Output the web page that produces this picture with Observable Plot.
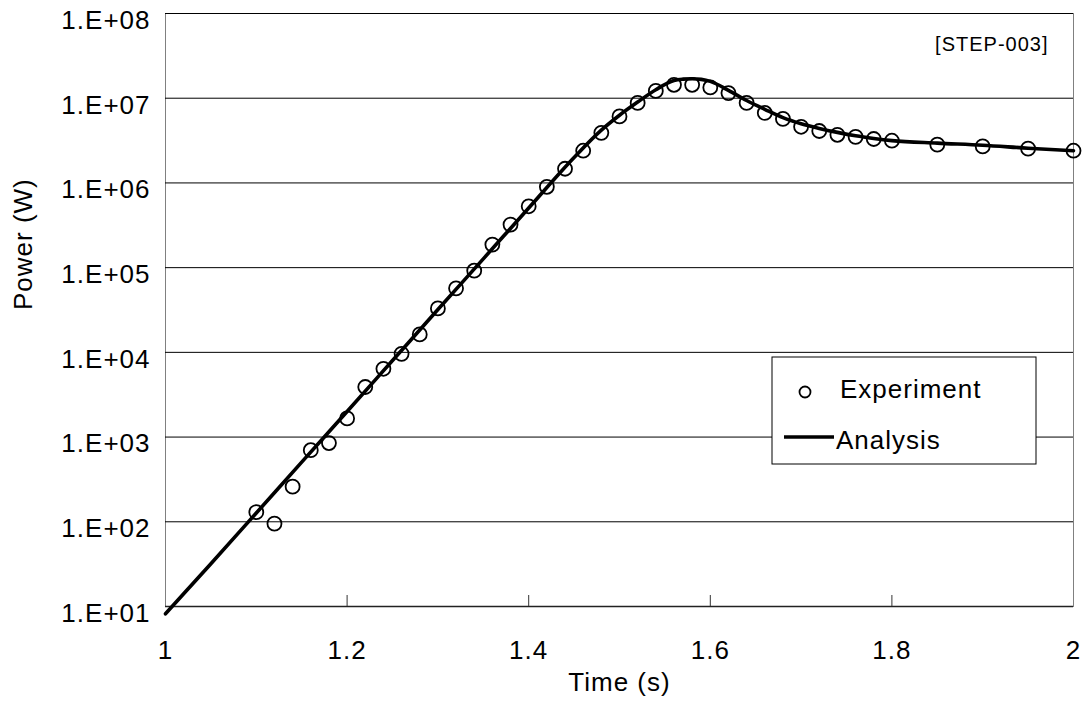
<!DOCTYPE html>
<html><head><meta charset="utf-8">
<script src="https://cdn.jsdelivr.net/npm/d3@7"></script>
<script src="https://cdn.jsdelivr.net/npm/@observablehq/plot@0.6"></script>
<style>body{margin:0;background:#fff;} svg{display:block}</style>
</head><body><div id="chart"></div>
<script>
const expTime = [1.10,1.12,1.14,1.16,1.18,1.20,1.22,1.24,1.26,1.28,1.30,1.32,1.34,1.36,1.38,1.40,1.42,1.44,1.46,1.48,1.50,1.52,1.54,1.56,1.58,1.60,1.62,1.64,1.66,1.68,1.70,1.72,1.74,1.76,1.78,1.80,1.85,1.90,1.95,2.00];
const expPower = [130,95,260,700,850,1660,3900,6400,9600,16300,33000,57000,92000,187000,322000,530000,900000,1.47e6,2.40e6,3.9e6,6.1e6,8.8e6,1.22e7,1.44e7,1.44e7,1.34e7,1.15e7,8.8e6,6.7e6,5.7e6,4.6e6,4.1e6,3.7e6,3.5e6,3.3e6,3.15e6,2.83e6,2.70e6,2.54e6,2.40e6];
const anaTime = [1.00,1.05,1.10,1.15,1.20,1.25,1.30,1.35,1.40,1.45,1.48,1.50,1.52,1.54,1.56,1.57,1.58,1.59,1.60,1.62,1.64,1.66,1.68,1.70,1.72,1.74,1.76,1.78,1.80,1.85,1.90,1.95,2.00];
const anaPower = [8.2,32,127,506,2000,8000,32000,127000,506000,2.0e6,4.2e6,6.3e6,9.0e6,1.26e7,1.62e7,1.68e7,1.70e7,1.67e7,1.58e7,1.24e7,9.4e6,7.4e6,5.9e6,5.0e6,4.4e6,3.95e6,3.6e6,3.35e6,3.16e6,2.95e6,2.79e6,2.57e6,2.40e6];
const xTicks = [1, 1.2, 1.4, 1.6, 1.8, 2];
const xTickLabels = ["1","1.2","1.4","1.6","1.8","2"];
const yTicks = [1e1,1e2,1e3,1e4,1e5,1e6,1e7,1e8];
const yTickLabels = ["1.E+01","1.E+02","1.E+03","1.E+04","1.E+05","1.E+06","1.E+07","1.E+08"];
const xLabel = "Time (s)";
const yLabel = "Power (W)";
const tag = "[STEP-003]";
const seriesNames = ["Experiment","Analysis"];

const exp = expTime.map((t,i)=>({t, p: expPower[i]}));
const ana = anaTime.map((t,i)=>({t, p: anaPower[i]}));

const chart = Plot.plot({
  width:1085, height:713, marginLeft:165, marginRight:12, marginTop:13, marginBottom:107,
  style: {fontFamily:"'Liberation Sans', Arial, sans-serif", fontSize:"26px", color:"#000", background:"#fff", overflow:"visible", letterSpacing:"1px"},
  x: {domain:[1,2]},
  y: {type:"log", domain:[10,1e8]},
  marks: [
    Plot.frame({stroke:"#808080"}),
    Plot.gridY(yTicks, {stroke:"#000", strokeOpacity:1, strokeWidth:1}),
    Plot.ruleY([10], {stroke:"#222", strokeWidth:1.5}),
    Plot.ruleX(xTicks.slice(1,-1), {stroke:"#333", insetTop:582}),
    Plot.axisY(yTicks, {tickSize:0, tickPadding:15, dy:7, tickFormat:d=>yTickLabels[yTicks.indexOf(d)], label:null, fontSize:26}),
    Plot.axisX(xTicks, {tickSize:0, tickPadding:34, tickFormat:d=>xTickLabels[xTicks.indexOf(d)], label:null, fontSize:26}),
    Plot.text([xLabel], {frameAnchor:"bottom", dy:84, fontSize:26}),
    Plot.text([yLabel], {frameAnchor:"left", rotate:-90, dx:-142, fontSize:26}),
    Plot.text([tag], {frameAnchor:"top-right", dx:-25, dy:23, textAnchor:"end", fontSize:20}),
    Plot.line(ana, {x:"t", y:"p", stroke:"#000", strokeWidth:3.6, curve:"monotone-x"}),
    Plot.dot(exp, {x:"t", y:"p", r:7, stroke:"#000", strokeWidth:1.8, fill:"none"})
  ]
});
document.getElementById("chart").appendChild(chart);

const svg = d3.select(chart);
const lg = svg.append("g").attr("font-size", 26).attr("text-anchor", "start");
lg.append("rect").attr("x",772).attr("y",357).attr("width",264).attr("height",107).attr("fill","#fff").attr("stroke","#000").attr("stroke-width",1);
lg.append("circle").attr("cx",805).attr("cy",392).attr("r",5.5).attr("fill","none").attr("stroke","#000").attr("stroke-width",1.8);
lg.append("text").attr("x",840).attr("y",398).attr("text-anchor","start").text(seriesNames[0]);
lg.append("line").attr("x1",784).attr("x2",834).attr("y1",437).attr("y2",437).attr("stroke","#000").attr("stroke-width",3.6);
lg.append("text").attr("x",836).attr("y",449).attr("text-anchor","start").text(seriesNames[1]);
</script>
</body></html>
